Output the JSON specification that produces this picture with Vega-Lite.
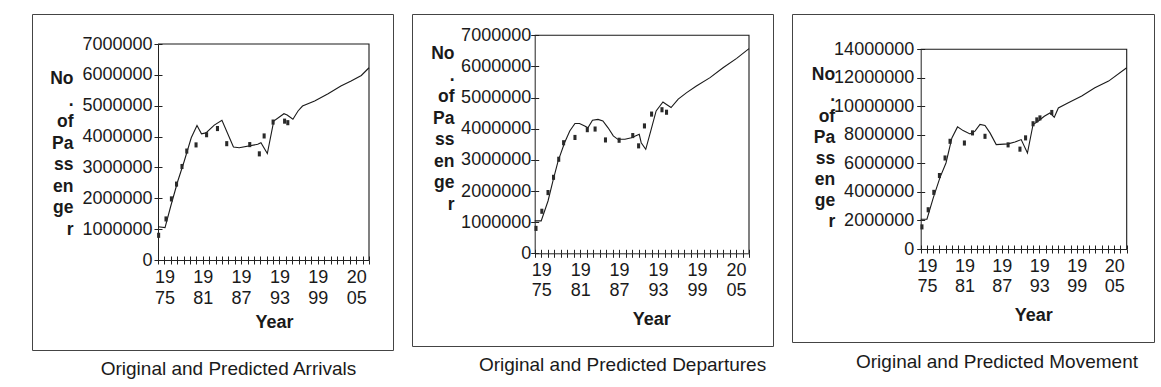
{
  "$schema": "https://vega.github.io/schema/vega-lite/v6.json",
  "background": "white",
  "padding": {"left": 31, "top": 13, "right": 0, "bottom": 0},
  "spacing": 17,
  "datasets": {
    "arr_pred": [
      {"year": 1974, "value": 1080000}, {"year": 1975.1, "value": 1050000}, {"year": 1976, "value": 1750000},
      {"year": 1977.1, "value": 2560000}, {"year": 1978.1, "value": 3200000}, {"year": 1979.2, "value": 3960000},
      {"year": 1980.1, "value": 4360000}, {"year": 1980.8, "value": 4090000}, {"year": 1981.5, "value": 4120000},
      {"year": 1982.8, "value": 4370000}, {"year": 1984, "value": 4530000}, {"year": 1985.8, "value": 3660000},
      {"year": 1986.7, "value": 3640000}, {"year": 1989.6, "value": 3750000}, {"year": 1990.1, "value": 3800000},
      {"year": 1991.1, "value": 3450000}, {"year": 1992.1, "value": 4500000}, {"year": 1993.7, "value": 4740000},
      {"year": 1994.2, "value": 4700000}, {"year": 1995.1, "value": 4560000}, {"year": 1995.9, "value": 4830000},
      {"year": 1996.6, "value": 4990000}, {"year": 1998.5, "value": 5150000}, {"year": 2000.6, "value": 5390000},
      {"year": 2002.6, "value": 5640000}, {"year": 2004.2, "value": 5800000}, {"year": 2005.8, "value": 5980000},
      {"year": 2007, "value": 6230000},
      {"year": 1974, "value": 7000000, "part": "box"}, {"year": 2007, "value": 7000000, "part": "box"}, {"year": 2007, "value": 0, "part": "box"}
    ],
    "arr_obs": [
      {"year": 1974.1, "value": 800000}, {"year": 1975.25, "value": 1330000}, {"year": 1976.1, "value": 1980000},
      {"year": 1976.9, "value": 2460000}, {"year": 1977.75, "value": 3030000}, {"year": 1978.5, "value": 3530000},
      {"year": 1979.95, "value": 3730000}, {"year": 1981.6, "value": 4060000}, {"year": 1983.3, "value": 4260000},
      {"year": 1984.75, "value": 3770000}, {"year": 1988.35, "value": 3740000}, {"year": 1989.85, "value": 3440000},
      {"year": 1990.6, "value": 4020000}, {"year": 1992, "value": 4470000}, {"year": 1993.8, "value": 4500000},
      {"year": 1994.3, "value": 4450000}
    ],
    "dep_pred": [
      {"year": 1974, "value": 1040000}, {"year": 1975, "value": 1040000}, {"year": 1976.05, "value": 1680000},
      {"year": 1976.8, "value": 2320000}, {"year": 1977.6, "value": 2960000}, {"year": 1978.6, "value": 3550000},
      {"year": 1979.4, "value": 3930000}, {"year": 1980.2, "value": 4170000}, {"year": 1980.9, "value": 4170000},
      {"year": 1981.7, "value": 4090000}, {"year": 1982.2, "value": 4030000}, {"year": 1982.9, "value": 4270000},
      {"year": 1983.75, "value": 4300000}, {"year": 1984.5, "value": 4250000}, {"year": 1985.3, "value": 4030000},
      {"year": 1986.1, "value": 3770000}, {"year": 1986.8, "value": 3660000}, {"year": 1987.9, "value": 3660000},
      {"year": 1988.9, "value": 3710000}, {"year": 1990.1, "value": 3820000}, {"year": 1990.4, "value": 3550000},
      {"year": 1991.1, "value": 3340000}, {"year": 1992, "value": 4030000}, {"year": 1992.7, "value": 4570000},
      {"year": 1993.75, "value": 4860000}, {"year": 1994.3, "value": 4780000}, {"year": 1995, "value": 4680000},
      {"year": 1996.1, "value": 4950000}, {"year": 1997.4, "value": 5160000}, {"year": 1998.9, "value": 5370000},
      {"year": 2001, "value": 5640000}, {"year": 2003, "value": 5960000}, {"year": 2005.1, "value": 6260000},
      {"year": 2007, "value": 6570000},
      {"year": 1974, "value": 7000000, "part": "box"}, {"year": 2007, "value": 7000000, "part": "box"}, {"year": 2007, "value": 0, "part": "box"}
    ],
    "dep_obs": [
      {"year": 1974.2, "value": 800000}, {"year": 1975.1, "value": 1350000}, {"year": 1976.05, "value": 1950000},
      {"year": 1976.9, "value": 2440000}, {"year": 1977.7, "value": 3020000}, {"year": 1978.45, "value": 3550000},
      {"year": 1980.2, "value": 3720000}, {"year": 1982.1, "value": 3970000}, {"year": 1983.3, "value": 3990000},
      {"year": 1984.9, "value": 3640000}, {"year": 1987, "value": 3630000}, {"year": 1989.1, "value": 3780000},
      {"year": 1990, "value": 3450000}, {"year": 1990.9, "value": 4090000}, {"year": 1992, "value": 4470000},
      {"year": 1993.6, "value": 4610000}, {"year": 1994.3, "value": 4530000}
    ],
    "mov_pred": [
      {"year": 1974, "value": 2090000}, {"year": 1975, "value": 2090000}, {"year": 1976, "value": 3570000},
      {"year": 1977.1, "value": 5020000}, {"year": 1978.05, "value": 6030000}, {"year": 1979, "value": 7790000},
      {"year": 1979.9, "value": 8560000}, {"year": 1980.8, "value": 8300000}, {"year": 1981.9, "value": 8070000},
      {"year": 1982.7, "value": 8260000}, {"year": 1983.5, "value": 8730000}, {"year": 1984.3, "value": 8660000},
      {"year": 1985.1, "value": 8140000}, {"year": 1986.1, "value": 7320000}, {"year": 1988, "value": 7370000},
      {"year": 1989.1, "value": 7500000}, {"year": 1990.1, "value": 7670000}, {"year": 1991.1, "value": 6730000},
      {"year": 1992, "value": 8730000}, {"year": 1992.8, "value": 8960000}, {"year": 1993.8, "value": 9310000},
      {"year": 1994.7, "value": 9540000}, {"year": 1995.4, "value": 9240000}, {"year": 1996.05, "value": 9890000},
      {"year": 1997.65, "value": 10250000}, {"year": 1999.8, "value": 10720000}, {"year": 2001.9, "value": 11300000},
      {"year": 2004.1, "value": 11770000}, {"year": 2007, "value": 12710000},
      {"year": 1974, "value": 14000000, "part": "box"}, {"year": 2007, "value": 14000000, "part": "box"}, {"year": 2007, "value": 0, "part": "box"}
    ],
    "mov_obs": [
      {"year": 1974.2, "value": 1550000}, {"year": 1975.2, "value": 2750000}, {"year": 1976.1, "value": 3970000},
      {"year": 1977, "value": 5150000}, {"year": 1977.9, "value": 6380000}, {"year": 1978.7, "value": 7550000},
      {"year": 1981, "value": 7430000}, {"year": 1982.3, "value": 8140000}, {"year": 1984.3, "value": 7900000},
      {"year": 1988, "value": 7300000}, {"year": 1989.9, "value": 7000000}, {"year": 1990.8, "value": 7790000},
      {"year": 1992, "value": 8780000}, {"year": 1992.6, "value": 9050000}, {"year": 1993.1, "value": 9190000},
      {"year": 1995, "value": 9570000}
    ]
  },
  "hconcat": [
    {
      "width": 361, "height": 336,
      "title": {"text": "Original and Predicted Arrivals", "orient": "bottom", "anchor": "middle", "dx": 16, "offset": 10},
      "resolve": {"axis": {"x": "independent", "y": "independent"}},
      "layer": [
        {
          "data": {"name": "arr_pred"},
          "mark": {"type": "line", "color": "#1a1a1a", "strokeWidth": 1.1},
          "encoding": {
            "detail": {"field": "part"},
            "x": {"field": "year", "type": "quantitative",
              "scale": {"domain": [1974, 2007], "range": [126, 337], "nice": false, "zero": false},
              "axis": {"orient": "bottom", "values": [1974,1975,1976,1977,1978,1979,1980,1981,1982,1983,1984,1985,1986,1987,1988,1989,1990,1991,1992,1993,1994,1995,1996,1997,1998,1999,2000,2001,2002,2003,2004,2005,2006,2007],
                "format": "d", "labelExpr": "indexof(['1975','1981','1987','1993','1999','2005'], datum.label) >= 0 ? [substring(datum.label,0,2), substring(datum.label,2,4)] : ''",
                "labelOverlap": false, "labelFlush": false, "labelBound": false, "offset": -90, "tickSize": 4,
                "labelPadding": 4, "labelLineHeight": 21, "labelBaseline": "top",
                "title": "Year", "titleX": 242, "titleY": 67.5, "titleBaseline": "alphabetic", "titleAlign": "center", "titleAngle": 0}},
            "y": {"field": "value", "type": "quantitative",
              "scale": {"domain": [0, 7000000], "range": [246, 30], "nice": false, "zero": false},
              "axis": {"orient": "left", "values": [0,1000000,2000000,3000000,4000000,5000000,6000000,7000000], "format": "d",
                "labelOverlap": false, "labelFlush": false, "offset": -126, "tickSize": 4, "labelPadding": 2,
                "title": ["No", ".", "of", "Pa", "ss", "en", "ge", "r"], "titleAngle": 0, "titleAlign": "right",
                "titleBaseline": "alphabetic", "titleX": -85, "titleY": 69.7, "titleLineHeight": 21.5}}
          }
        },
        {
          "data": {"name": "arr_obs"},
          "mark": {"type": "point", "shape": "M-0.6,-1L0.6,-1L0.6,1L-0.6,1Z", "filled": true, "color": "#2a2a2a", "opacity": 1, "size": 26},
          "encoding": {
            "x": {"field": "year", "type": "quantitative",
              "axis": {"orient": "bottom", "values": [1974,1975,1976,1977,1978,1979,1980,1981,1982,1983,1984,1985,1986,1987,1988,1989,1990,1991,1992,1993,1994,1995,1996,1997,1998,1999,2000,2001,2002,2003,2004,2005,2006,2007],
                "offset": -90, "tickSize": -4, "labels": false, "domain": false, "title": null}},
            "y": {"field": "value", "type": "quantitative",
              "axis": {"orient": "left", "values": [0,1000000,2000000,3000000,4000000,5000000,6000000,7000000],
                "offset": -126, "tickSize": -4, "labels": false, "domain": false, "title": null}}
          }
        }
      ]
    },
    {
      "width": 361, "height": 332,
      "title": {"text": "Original and Predicted Departures", "orient": "bottom", "anchor": "middle", "dx": 30, "offset": 10},
      "resolve": {"axis": {"x": "independent", "y": "independent"}},
      "layer": [
        {
          "data": {"name": "dep_pred"},
          "mark": {"type": "line", "color": "#1a1a1a", "strokeWidth": 1.1},
          "encoding": {
            "detail": {"field": "part"},
            "x": {"field": "year", "type": "quantitative",
              "scale": {"domain": [1974, 2007], "range": [122.7, 337], "nice": false, "zero": false},
              "axis": {"orient": "bottom", "values": [1974,1975,1976,1977,1978,1979,1980,1981,1982,1983,1984,1985,1986,1987,1988,1989,1990,1991,1992,1993,1994,1995,1996,1997,1998,1999,2000,2001,2002,2003,2004,2005,2006,2007],
                "format": "d", "labelExpr": "indexof(['1975','1981','1987','1993','1999','2005'], datum.label) >= 0 ? [substring(datum.label,0,2), substring(datum.label,2,4)] : ''",
                "labelOverlap": false, "labelFlush": false, "labelBound": false, "offset": -92.7, "tickSize": 4,
                "labelPadding": 4, "labelLineHeight": 20, "labelBaseline": "top",
                "title": "Year", "titleX": 239.3, "titleY": 70.7, "titleBaseline": "alphabetic", "titleAlign": "center", "titleAngle": 0}},
            "y": {"field": "value", "type": "quantitative",
              "scale": {"domain": [0, 7000000], "range": [239.3, 21.3], "nice": false, "zero": false},
              "axis": {"orient": "left", "values": [0,1000000,2000000,3000000,4000000,5000000,6000000,7000000], "format": "d",
                "labelOverlap": false, "labelFlush": false, "offset": -122.7, "tickSize": 4, "labelPadding": 0,
                "title": ["No", ".", "of", "Pa", "ss", "en", "ge", "r"], "titleAngle": 0, "titleAlign": "right",
                "titleBaseline": "alphabetic", "titleX": -80.7, "titleY": 44.7, "titleLineHeight": 21.5}}
          }
        },
        {
          "data": {"name": "dep_obs"},
          "mark": {"type": "point", "shape": "M-0.6,-1L0.6,-1L0.6,1L-0.6,1Z", "filled": true, "color": "#2a2a2a", "opacity": 1, "size": 26},
          "encoding": {
            "x": {"field": "year", "type": "quantitative",
              "axis": {"orient": "bottom", "values": [1974,1975,1976,1977,1978,1979,1980,1981,1982,1983,1984,1985,1986,1987,1988,1989,1990,1991,1992,1993,1994,1995,1996,1997,1998,1999,2000,2001,2002,2003,2004,2005,2006,2007],
                "offset": -92.7, "tickSize": -4, "labels": false, "domain": false, "title": null}},
            "y": {"field": "value", "type": "quantitative",
              "axis": {"orient": "left", "values": [0,1000000,2000000,3000000,4000000,5000000,6000000,7000000],
                "offset": -122.7, "tickSize": -4, "labels": false, "domain": false, "title": null}}
          }
        }
      ]
    },
    {
      "width": 362, "height": 328,
      "title": {"text": "Original and Predicted Movement", "orient": "bottom", "anchor": "middle", "dx": 24, "offset": 11},
      "resolve": {"axis": {"x": "independent", "y": "independent"}},
      "layer": [
        {
          "data": {"name": "mov_pred"},
          "mark": {"type": "line", "color": "#1a1a1a", "strokeWidth": 1.1},
          "encoding": {
            "detail": {"field": "part"},
            "x": {"field": "year", "type": "quantitative",
              "scale": {"domain": [1974, 2007], "range": [128.7, 334.7], "nice": false, "zero": false},
              "axis": {"orient": "bottom", "values": [1974,1975,1976,1977,1978,1979,1980,1981,1982,1983,1984,1985,1986,1987,1988,1989,1990,1991,1992,1993,1994,1995,1996,1997,1998,1999,2000,2001,2002,2003,2004,2005,2006,2007],
                "format": "d", "labelExpr": "indexof(['1975','1981','1987','1993','1999','2005'], datum.label) >= 0 ? [substring(datum.label,0,2), substring(datum.label,2,4)] : ''",
                "labelOverlap": false, "labelFlush": false, "labelBound": false, "offset": -93, "tickSize": 4,
                "labelPadding": 4, "labelLineHeight": 20, "labelBaseline": "top",
                "title": "Year", "titleX": 241.3, "titleY": 71.8, "titleBaseline": "alphabetic", "titleAlign": "center", "titleAngle": 0}},
            "y": {"field": "value", "type": "quantitative",
              "scale": {"domain": [0, 14000000], "range": [235, 35.3], "nice": false, "zero": false},
              "axis": {"orient": "left", "values": [0,2000000,4000000,6000000,8000000,10000000,12000000,14000000], "format": "d",
                "labelOverlap": false, "labelFlush": false, "offset": -128.7, "tickSize": 4, "labelPadding": 3,
                "title": ["No", ".", "of", "Pa", "ss", "en", "ge", "r"], "titleAngle": 0, "titleAlign": "right",
                "titleBaseline": "alphabetic", "titleX": -86, "titleY": 65.3, "titleLineHeight": 21}}
          }
        },
        {
          "data": {"name": "mov_obs"},
          "mark": {"type": "point", "shape": "M-0.6,-1L0.6,-1L0.6,1L-0.6,1Z", "filled": true, "color": "#2a2a2a", "opacity": 1, "size": 26},
          "encoding": {
            "x": {"field": "year", "type": "quantitative",
              "axis": {"orient": "bottom", "values": [1974,1975,1976,1977,1978,1979,1980,1981,1982,1983,1984,1985,1986,1987,1988,1989,1990,1991,1992,1993,1994,1995,1996,1997,1998,1999,2000,2001,2002,2003,2004,2005,2006,2007],
                "offset": -93, "tickSize": -4, "labels": false, "domain": false, "title": null}},
            "y": {"field": "value", "type": "quantitative",
              "axis": {"orient": "left", "values": [0,2000000,4000000,6000000,8000000,10000000,12000000,14000000],
                "offset": -128.7, "tickSize": -4, "labels": false, "domain": false, "title": null}}
          }
        }
      ]
    }
  ],
  "config": {
    "view": {"stroke": "#444", "strokeWidth": 1, "fill": "white"},
    "axis": {
      "grid": false, "domainColor": "#222", "domainWidth": 1, "tickColor": "#222", "tickWidth": 1,
      "labelFont": "Liberation Sans", "labelFontSize": 18, "labelColor": "#1a1a1a",
      "titleFont": "Liberation Sans", "titleFontSize": 17.5, "titleFontWeight": "bold", "titleColor": "#1a1a1a"
    },
    "axisX": {"titleFontSize": 18},
    "title": {"font": "Liberation Sans", "fontSize": 19, "fontWeight": "normal", "color": "#1a1a1a"}
  }
}
